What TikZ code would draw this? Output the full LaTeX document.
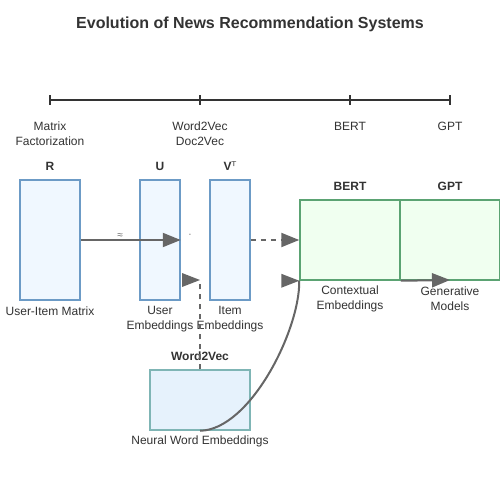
\documentclass[tikz,border=0pt]{standalone}
\usepackage{fontspec}
\setmainfont{Liberation Sans}
\newfontfamily\dejavu{DejaVu Sans}
\usetikzlibrary{arrows.meta}
\definecolor{txt}{HTML}{333333}
\definecolor{ln}{HTML}{666666}
\definecolor{bluestroke}{HTML}{6C9BC6}
\definecolor{bluefill}{HTML}{F0F8FF}
\definecolor{greenstroke}{HTML}{5BA373}
\definecolor{greenfill}{HTML}{F0FFF0}
\definecolor{tealstroke}{HTML}{7FB5B5}
\definecolor{tealfill}{HTML}{E6F2FC}
\tikzset{
  lbl/.style={font=\fontsize{12}{15}\selectfont, text=txt, align=center, inner sep=0pt},
  hdr/.style={font=\bfseries\fontsize{12}{15}\selectfont, text=txt, inner sep=0pt},
  mbox/.style={draw=bluestroke, fill=bluefill, line width=1.5pt, inner sep=0pt},
  gbox/.style={draw=greenstroke, fill=greenfill, line width=1.5pt, inner sep=0pt},
  tbox/.style={draw=tealstroke, fill=tealfill, line width=1.5pt, inner sep=0pt},
  conn/.style={draw=ln, line width=2pt},
  tip/.style={-{Triangle[length=18pt,width=14pt]}},
  dsh/.style={dash pattern=on 5pt off 5pt},
}
\begin{document}
\begin{tikzpicture}[x=1pt,y=-1pt]
\useasboundingbox (0,0) rectangle (500,500);
\fill[white] (0,0) rectangle (500,500);
% title
\node[font=\bfseries\fontsize{16}{19}\selectfont, text=txt] (title) at (250,24) {Evolution of News Recommendation Systems};
% timeline
\coordinate (t1) at (50,100);
\coordinate (t2) at (200,100);
\coordinate (t3) at (350,100);
\coordinate (t4) at (450,100);
\draw[txt, line width=2pt] (t1) -- (t4);
\foreach \p in {t1,t2,t3,t4} \draw[txt, line width=2pt] ([yshift=-5pt]\p) -- ([yshift=5pt]\p);
\node[lbl] (l1) at (50,134) {Matrix\\Factorization};
\node[lbl] (l2) at (200,134) {Word2Vec\\Doc2Vec};
\node[lbl] (l3) at (350,126) {BERT};
\node[lbl] (l4) at (450,126) {GPT};
% matrix boxes
\node[mbox, minimum width=60pt, minimum height=120pt] (R) at (50,240) {};
\node[mbox, minimum width=40pt, minimum height=120pt] (U) at (160,240) {};
\node[mbox, minimum width=40pt, minimum height=120pt] (V) at (230,240) {};
\node[hdr] (Rl) at (50,166) {R};
\node[hdr] (Ul) at (160,166) {U};
\node[hdr] (Vl) at (230,166) {V{\dejavu\mdseries ᵀ}};
\node[lbl] (Rc) at (50,311) {User-Item Matrix};
\node[lbl] (Uc) at (160,319) {User\\Embeddings};
\node[lbl] (Vc) at (230,319) {Item\\Embeddings};
% green boxes
\node[gbox, minimum width=100pt, minimum height=80pt] (B) at (350,240) {};
\node[gbox, minimum width=100pt, minimum height=80pt] (G) at (450,240) {};
\node[hdr] (Bl) at (350,186) {BERT};
\node[hdr] (Gl) at (450,186) {GPT};
\node[lbl] (Bc) at (350,299) {Contextual\\Embeddings};
\node[lbl] (Gc) at (450,299) {Generative\\Models};
% word2vec box
\node[tbox, minimum width=100pt, minimum height=60pt] (W) at (200,400) {};
\node[hdr] (Wl) at (200,356) {Word2Vec};
\node[lbl] (Wc) at (200,441) {Neural Word Embeddings};
% connectors
\draw[conn, tip, ln] (R.east) -- (U.east);
\node[font=\fontsize{10}{11}\selectfont, text=ln, inner sep=0pt] (approx) at (120,236) {≈};
\node[font=\fontsize{10}{11}\selectfont, text=ln, inner sep=0pt] (dot) at (190,236) {·};
\draw[conn, tip, ln, dsh] (V.east) -- (B.west);
\coordinate (wtop) at (200,280);
\draw[conn, dsh] (W.north) -- (wtop);
\fill[ln] (wtop) -- ++(-18,-7) -- ++(0,14) -- cycle;
\draw[conn] (W.south) .. controls (250,430) and (300,330) .. (B.south west);
\fill[ln] (B.south west) -- ++(-18,-7) -- ++(0,14) -- cycle;
\coordinate (gmid) at (450,280);
\draw[conn, tip, ln] (B.south east) -- (gmid);
\end{tikzpicture}
\end{document}
